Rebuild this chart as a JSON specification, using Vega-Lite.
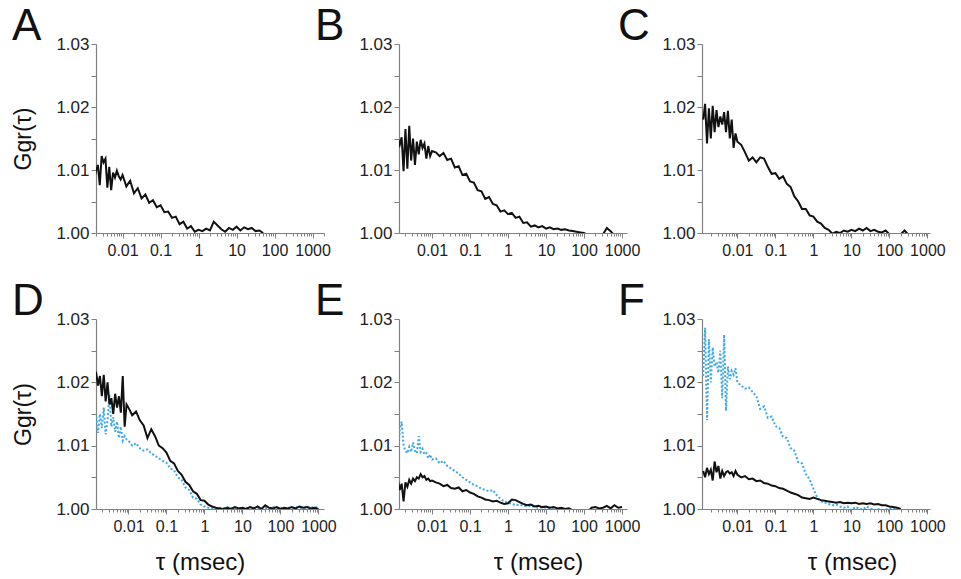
{
"$schema":"https://vega.github.io/schema/vega-lite/v6.json",
"background":"white",
"padding":{"left":12,"top":5,"right":5,"bottom":5},
"config":{"view":{"stroke":null},"font":"Liberation Sans",
"axis":{"domainColor":"#808080","tickColor":"#808080","labelColor":"#222","labelFont":"Liberation Sans","titleFont":"Liberation Sans","grid":false,"titleFontWeight":"normal","titleColor":"#111","domainWidth":1.2,"tickWidth":1},
"axisX":{"labelFontSize":16,"titleFontSize":24},
"axisY":{"labelFontSize":17,"titleFontSize":23}},
"datasets":{
"A":[{"tau":0.001259,"g":1.0100},{"tau":0.001413,"g":1.0090},{"tau":0.001585,"g":1.0110},{"tau":0.001778,"g":1.0085},{"tau":0.001995,"g":1.0098},{"tau":0.002239,"g":1.0108},{"tau":0.002512,"g":1.0076},{"tau":0.002818,"g":1.0122},{"tau":0.003162,"g":1.0112},{"tau":0.003548,"g":1.0118},{"tau":0.003981,"g":1.0072},{"tau":0.004467,"g":1.0105},{"tau":0.005012,"g":1.0068},{"tau":0.005623,"g":1.0096},{"tau":0.00631,"g":1.0088},{"tau":0.007079,"g":1.0099},{"tau":0.007943,"g":1.0090},{"tau":0.008913,"g":1.0085},{"tau":0.01,"g":1.0092},{"tau":0.01259,"g":1.0074},{"tau":0.01585,"g":1.0083},{"tau":0.01995,"g":1.0063},{"tau":0.02512,"g":1.0071},{"tau":0.03162,"g":1.0055},{"tau":0.03981,"g":1.0061},{"tau":0.05012,"g":1.0048},{"tau":0.0631,"g":1.0052},{"tau":0.07943,"g":1.0041},{"tau":0.1,"g":1.0044},{"tau":0.1259,"g":1.0033},{"tau":0.1585,"g":1.0034},{"tau":0.1995,"g":1.0024},{"tau":0.2512,"g":1.0026},{"tau":0.3162,"g":1.0014},{"tau":0.3981,"g":1.0018},{"tau":0.5012,"g":1.0007},{"tau":0.631,"g":1.0011},{"tau":0.7943,"g":1.0002},{"tau":1,"g":1.0005},{"tau":1.259,"g":1.0003},{"tau":1.585,"g":1.0007},{"tau":1.995,"g":1.0004},{"tau":2.512,"g":1.0018},{"tau":3.162,"g":1.0012},{"tau":3.981,"g":1.0006},{"tau":5.012,"g":1.0002},{"tau":6.31,"g":1.0008},{"tau":7.943,"g":1.0005},{"tau":10,"g":1.0010},{"tau":12.59,"g":1.0004},{"tau":15.85,"g":1.0009},{"tau":19.95,"g":1.0006},{"tau":25.12,"g":1.0008},{"tau":31.62,"g":1.0003},{"tau":39.81,"g":1.0004},{"tau":50.12,"g":1.0000}],
"B":[{"tau":0.001259,"g":1.0150},{"tau":0.001413,"g":1.0140},{"tau":0.001585,"g":1.0152},{"tau":0.001778,"g":1.0098},{"tau":0.001995,"g":1.0165},{"tau":0.002239,"g":1.0102},{"tau":0.002512,"g":1.0170},{"tau":0.002818,"g":1.0115},{"tau":0.003162,"g":1.0150},{"tau":0.003548,"g":1.0108},{"tau":0.003981,"g":1.0145},{"tau":0.004467,"g":1.0125},{"tau":0.005012,"g":1.0148},{"tau":0.005623,"g":1.0135},{"tau":0.00631,"g":1.0142},{"tau":0.007079,"g":1.0118},{"tau":0.007943,"g":1.0138},{"tau":0.008913,"g":1.0122},{"tau":0.01,"g":1.0130},{"tau":0.01259,"g":1.0128},{"tau":0.01585,"g":1.0122},{"tau":0.01995,"g":1.0127},{"tau":0.02512,"g":1.0116},{"tau":0.03162,"g":1.0118},{"tau":0.03981,"g":1.0104},{"tau":0.05012,"g":1.0106},{"tau":0.0631,"g":1.0092},{"tau":0.07943,"g":1.0094},{"tau":0.1,"g":1.0082},{"tau":0.1259,"g":1.0080},{"tau":0.1585,"g":1.0068},{"tau":0.1995,"g":1.0066},{"tau":0.2512,"g":1.0054},{"tau":0.3162,"g":1.0057},{"tau":0.3981,"g":1.0046},{"tau":0.5012,"g":1.0044},{"tau":0.631,"g":1.0034},{"tau":0.7943,"g":1.0036},{"tau":1,"g":1.0030},{"tau":1.259,"g":1.0032},{"tau":1.585,"g":1.0024},{"tau":1.995,"g":1.0026},{"tau":2.512,"g":1.0016},{"tau":3.162,"g":1.0017},{"tau":3.981,"g":1.0010},{"tau":5.012,"g":1.0012},{"tau":6.31,"g":1.0009},{"tau":7.943,"g":1.0011},{"tau":10,"g":1.0007},{"tau":12.59,"g":1.0009},{"tau":15.85,"g":1.0006},{"tau":19.95,"g":1.0007},{"tau":25.12,"g":1.0005},{"tau":31.62,"g":1.0006},{"tau":39.81,"g":1.0004},{"tau":50.12,"g":1.0003},{"tau":63.1,"g":1.0002},{"tau":79.43,"g":1.0001},{"tau":100,"g":1.0000},{"tau":125.9,"g":0.9996},{"tau":158.5,"g":0.9994},{"tau":199.5,"g":0.9995},{"tau":251.2,"g":0.9996},{"tau":316.2,"g":0.9998},{"tau":398.1,"g":1.0008},{"tau":501.2,"g":1.0003},{"tau":631,"g":0.9996}],
"C":[{"tau":0.001259,"g":1.0180},{"tau":0.001413,"g":1.0205},{"tau":0.001585,"g":1.0142},{"tau":0.001778,"g":1.0198},{"tau":0.001995,"g":1.0150},{"tau":0.002239,"g":1.0202},{"tau":0.002512,"g":1.0160},{"tau":0.002818,"g":1.0195},{"tau":0.003162,"g":1.0168},{"tau":0.003548,"g":1.0185},{"tau":0.003981,"g":1.0172},{"tau":0.004467,"g":1.0192},{"tau":0.005012,"g":1.0160},{"tau":0.005623,"g":1.0194},{"tau":0.00631,"g":1.0150},{"tau":0.007079,"g":1.0180},{"tau":0.007943,"g":1.0135},{"tau":0.008913,"g":1.0158},{"tau":0.01,"g":1.0145},{"tau":0.01259,"g":1.0140},{"tau":0.01585,"g":1.0128},{"tau":0.01995,"g":1.0115},{"tau":0.02512,"g":1.0120},{"tau":0.03162,"g":1.0112},{"tau":0.03981,"g":1.0120},{"tau":0.05012,"g":1.0118},{"tau":0.0631,"g":1.0105},{"tau":0.07943,"g":1.0094},{"tau":0.1,"g":1.0095},{"tau":0.1259,"g":1.0086},{"tau":0.1585,"g":1.0090},{"tau":0.1995,"g":1.0078},{"tau":0.2512,"g":1.0073},{"tau":0.3162,"g":1.0058},{"tau":0.3981,"g":1.0050},{"tau":0.5012,"g":1.0038},{"tau":0.631,"g":1.0038},{"tau":0.7943,"g":1.0028},{"tau":1,"g":1.0026},{"tau":1.259,"g":1.0018},{"tau":1.585,"g":1.0015},{"tau":1.995,"g":1.0008},{"tau":2.512,"g":1.0005},{"tau":3.162,"g":0.9999},{"tau":3.981,"g":1.0002},{"tau":5.012,"g":1.0000},{"tau":6.31,"g":1.0004},{"tau":7.943,"g":1.0002},{"tau":10,"g":1.0005},{"tau":12.59,"g":1.0003},{"tau":15.85,"g":1.0007},{"tau":19.95,"g":1.0004},{"tau":25.12,"g":1.0008},{"tau":31.62,"g":1.0003},{"tau":39.81,"g":1.0005},{"tau":50.12,"g":1.0002},{"tau":63.1,"g":1.0001},{"tau":79.43,"g":1.0004},{"tau":100,"g":0.9998},{"tau":125.9,"g":0.9996},{"tau":158.5,"g":0.9995},{"tau":199.5,"g":0.9998},{"tau":251.2,"g":1.0004},{"tau":316.2,"g":0.9997}],
"Dk":[{"tau":0.001259,"g":1.0220},{"tau":0.001413,"g":1.0215},{"tau":0.001585,"g":1.0195},{"tau":0.001778,"g":1.0210},{"tau":0.001995,"g":1.0178},{"tau":0.002239,"g":1.0212},{"tau":0.002512,"g":1.0170},{"tau":0.002818,"g":1.0200},{"tau":0.003162,"g":1.0165},{"tau":0.003548,"g":1.0175},{"tau":0.003981,"g":1.0150},{"tau":0.004467,"g":1.0182},{"tau":0.005012,"g":1.0160},{"tau":0.005623,"g":1.0178},{"tau":0.00631,"g":1.0152},{"tau":0.007079,"g":1.0210},{"tau":0.007943,"g":1.0130},{"tau":0.008913,"g":1.0165},{"tau":0.01,"g":1.0160},{"tau":0.01259,"g":1.0148},{"tau":0.01585,"g":1.0154},{"tau":0.01995,"g":1.0140},{"tau":0.02512,"g":1.0132},{"tau":0.03162,"g":1.0112},{"tau":0.03981,"g":1.0126},{"tau":0.05012,"g":1.0115},{"tau":0.0631,"g":1.0100},{"tau":0.07943,"g":1.0096},{"tau":0.1,"g":1.0089},{"tau":0.1259,"g":1.0076},{"tau":0.1585,"g":1.0072},{"tau":0.1995,"g":1.0060},{"tau":0.2512,"g":1.0054},{"tau":0.3162,"g":1.0043},{"tau":0.3981,"g":1.0038},{"tau":0.5012,"g":1.0028},{"tau":0.631,"g":1.0024},{"tau":0.7943,"g":1.0014},{"tau":1,"g":1.0013},{"tau":1.259,"g":1.0007},{"tau":1.585,"g":1.0004},{"tau":1.995,"g":1.0002},{"tau":2.512,"g":1.0001},{"tau":3.162,"g":1.0000},{"tau":3.981,"g":1.0002},{"tau":5.012,"g":1.0000},{"tau":6.31,"g":1.0003},{"tau":7.943,"g":1.0001},{"tau":10,"g":1.0002},{"tau":12.59,"g":1.0000},{"tau":15.85,"g":1.0003},{"tau":19.95,"g":1.0001},{"tau":25.12,"g":1.0004},{"tau":31.62,"g":1.0000},{"tau":39.81,"g":1.0006},{"tau":50.12,"g":1.0002},{"tau":63.1,"g":1.0001},{"tau":79.43,"g":1.0003},{"tau":100,"g":1.0000},{"tau":125.9,"g":1.0002},{"tau":158.5,"g":1.0001},{"tau":199.5,"g":1.0003},{"tau":251.2,"g":1.0001},{"tau":316.2,"g":1.0004},{"tau":398.1,"g":1.0002},{"tau":501.2,"g":1.0003},{"tau":631,"g":1.0001},{"tau":794.3,"g":1.0002},{"tau":1000,"g":1.0000}],
"Db":[{"tau":0.001259,"g":1.0145},{"tau":0.001413,"g":1.0148},{"tau":0.001585,"g":1.0120},{"tau":0.001778,"g":1.0150},{"tau":0.001995,"g":1.0128},{"tau":0.002239,"g":1.0160},{"tau":0.002512,"g":1.0118},{"tau":0.002818,"g":1.0140},{"tau":0.003162,"g":1.0180},{"tau":0.003548,"g":1.0130},{"tau":0.003981,"g":1.0145},{"tau":0.004467,"g":1.0122},{"tau":0.005012,"g":1.0138},{"tau":0.005623,"g":1.0112},{"tau":0.00631,"g":1.0130},{"tau":0.007079,"g":1.0108},{"tau":0.007943,"g":1.0115},{"tau":0.008913,"g":1.0110},{"tau":0.01,"g":1.0108},{"tau":0.01259,"g":1.0100},{"tau":0.01585,"g":1.0104},{"tau":0.01995,"g":1.0096},{"tau":0.02512,"g":1.0092},{"tau":0.03162,"g":1.0094},{"tau":0.03981,"g":1.0088},{"tau":0.05012,"g":1.0084},{"tau":0.0631,"g":1.0080},{"tau":0.07943,"g":1.0076},{"tau":0.1,"g":1.0073},{"tau":0.1259,"g":1.0064},{"tau":0.1585,"g":1.0061},{"tau":0.1995,"g":1.0050},{"tau":0.2512,"g":1.0046},{"tau":0.3162,"g":1.0034},{"tau":0.3981,"g":1.0030},{"tau":0.5012,"g":1.0018},{"tau":0.631,"g":1.0016},{"tau":0.7943,"g":1.0007},{"tau":1,"g":1.0004},{"tau":1.259,"g":1.0002},{"tau":1.585,"g":1.0001},{"tau":1.995,"g":1.0000},{"tau":2.512,"g":1.0002},{"tau":3.162,"g":1.0001},{"tau":3.981,"g":1.0003},{"tau":5.012,"g":1.0001},{"tau":6.31,"g":1.0002},{"tau":7.943,"g":1.0000},{"tau":10,"g":1.0002},{"tau":12.59,"g":1.0001},{"tau":15.85,"g":1.0003},{"tau":19.95,"g":1.0001},{"tau":25.12,"g":1.0002},{"tau":31.62,"g":1.0000},{"tau":39.81,"g":1.0002},{"tau":50.12,"g":1.0001},{"tau":63.1,"g":1.0003},{"tau":79.43,"g":1.0001},{"tau":100,"g":1.0002},{"tau":125.9,"g":1.0000},{"tau":158.5,"g":1.0002},{"tau":199.5,"g":1.0001},{"tau":251.2,"g":1.0003},{"tau":316.2,"g":1.0002},{"tau":398.1,"g":1.0001},{"tau":501.2,"g":1.0003},{"tau":631,"g":1.0002},{"tau":794.3,"g":1.0004},{"tau":1000,"g":1.0001}],
"Ek":[{"tau":0.001259,"g":1.0045},{"tau":0.001413,"g":1.0030},{"tau":0.001585,"g":1.0040},{"tau":0.001778,"g":1.0012},{"tau":0.001995,"g":1.0042},{"tau":0.002239,"g":1.0035},{"tau":0.002512,"g":1.0046},{"tau":0.002818,"g":1.0040},{"tau":0.003162,"g":1.0048},{"tau":0.003548,"g":1.0044},{"tau":0.003981,"g":1.0050},{"tau":0.004467,"g":1.0048},{"tau":0.005012,"g":1.0055},{"tau":0.005623,"g":1.0050},{"tau":0.00631,"g":1.0052},{"tau":0.007079,"g":1.0046},{"tau":0.007943,"g":1.0048},{"tau":0.008913,"g":1.0044},{"tau":0.01,"g":1.0045},{"tau":0.01259,"g":1.0042},{"tau":0.01585,"g":1.0040},{"tau":0.01995,"g":1.0036},{"tau":0.02512,"g":1.0038},{"tau":0.03162,"g":1.0033},{"tau":0.03981,"g":1.0032},{"tau":0.05012,"g":1.0034},{"tau":0.0631,"g":1.0028},{"tau":0.07943,"g":1.0030},{"tau":0.1,"g":1.0026},{"tau":0.1259,"g":1.0024},{"tau":0.1585,"g":1.0020},{"tau":0.1995,"g":1.0018},{"tau":0.2512,"g":1.0015},{"tau":0.3162,"g":1.0014},{"tau":0.3981,"g":1.0012},{"tau":0.5012,"g":1.0013},{"tau":0.631,"g":1.0010},{"tau":0.7943,"g":1.0008},{"tau":1,"g":1.0009},{"tau":1.259,"g":1.0015},{"tau":1.585,"g":1.0014},{"tau":1.995,"g":1.0011},{"tau":2.512,"g":1.0008},{"tau":3.162,"g":1.0006},{"tau":3.981,"g":1.0007},{"tau":5.012,"g":1.0004},{"tau":6.31,"g":1.0005},{"tau":7.943,"g":1.0003},{"tau":10,"g":1.0004},{"tau":12.59,"g":1.0002},{"tau":15.85,"g":1.0003},{"tau":19.95,"g":1.0001},{"tau":25.12,"g":1.0002},{"tau":31.62,"g":1.0000},{"tau":39.81,"g":1.0001},{"tau":50.12,"g":0.9998},{"tau":63.1,"g":0.9996},{"tau":79.43,"g":0.9995},{"tau":100,"g":0.9998},{"tau":125.9,"g":0.9996},{"tau":158.5,"g":1.0002},{"tau":199.5,"g":1.0003},{"tau":251.2,"g":1.0001},{"tau":316.2,"g":1.0002},{"tau":398.1,"g":1.0005},{"tau":501.2,"g":1.0001},{"tau":631,"g":1.0006},{"tau":794.3,"g":1.0002},{"tau":1000,"g":1.0003}],
"Eb":[{"tau":0.001259,"g":1.0085},{"tau":0.001413,"g":1.0125},{"tau":0.001585,"g":1.0138},{"tau":0.001778,"g":1.0100},{"tau":0.001995,"g":1.0092},{"tau":0.002239,"g":1.0088},{"tau":0.002512,"g":1.0098},{"tau":0.002818,"g":1.0090},{"tau":0.003162,"g":1.0105},{"tau":0.003548,"g":1.0092},{"tau":0.003981,"g":1.0088},{"tau":0.004467,"g":1.0115},{"tau":0.005012,"g":1.0090},{"tau":0.005623,"g":1.0095},{"tau":0.00631,"g":1.0086},{"tau":0.007079,"g":1.0088},{"tau":0.007943,"g":1.0080},{"tau":0.008913,"g":1.0086},{"tau":0.01,"g":1.0078},{"tau":0.01259,"g":1.0080},{"tau":0.01585,"g":1.0072},{"tau":0.01995,"g":1.0076},{"tau":0.02512,"g":1.0068},{"tau":0.03162,"g":1.0064},{"tau":0.03981,"g":1.0060},{"tau":0.05012,"g":1.0056},{"tau":0.0631,"g":1.0050},{"tau":0.07943,"g":1.0046},{"tau":0.1,"g":1.0042},{"tau":0.1259,"g":1.0038},{"tau":0.1585,"g":1.0036},{"tau":0.1995,"g":1.0032},{"tau":0.2512,"g":1.0030},{"tau":0.3162,"g":1.0028},{"tau":0.3981,"g":1.0030},{"tau":0.5012,"g":1.0022},{"tau":0.631,"g":1.0016},{"tau":0.7943,"g":1.0012},{"tau":1,"g":1.0010},{"tau":1.259,"g":1.0008},{"tau":1.585,"g":1.0006},{"tau":1.995,"g":1.0007},{"tau":2.512,"g":1.0005},{"tau":3.162,"g":1.0004},{"tau":3.981,"g":1.0005},{"tau":5.012,"g":1.0003},{"tau":6.31,"g":1.0002},{"tau":7.943,"g":1.0003},{"tau":10,"g":1.0002},{"tau":12.59,"g":1.0001},{"tau":15.85,"g":1.0002},{"tau":19.95,"g":1.0000},{"tau":25.12,"g":1.0001},{"tau":31.62,"g":1.0000},{"tau":39.81,"g":0.9998}],
"Fk":[{"tau":0.001259,"g":1.0060},{"tau":0.001413,"g":1.0050},{"tau":0.001585,"g":1.0065},{"tau":0.001778,"g":1.0055},{"tau":0.001995,"g":1.0062},{"tau":0.002239,"g":1.0045},{"tau":0.002512,"g":1.0075},{"tau":0.002818,"g":1.0058},{"tau":0.003162,"g":1.0068},{"tau":0.003548,"g":1.0048},{"tau":0.003981,"g":1.0060},{"tau":0.004467,"g":1.0052},{"tau":0.005012,"g":1.0058},{"tau":0.005623,"g":1.0060},{"tau":0.00631,"g":1.0056},{"tau":0.007079,"g":1.0058},{"tau":0.007943,"g":1.0052},{"tau":0.008913,"g":1.0060},{"tau":0.01,"g":1.0054},{"tau":0.01259,"g":1.0050},{"tau":0.01585,"g":1.0052},{"tau":0.01995,"g":1.0047},{"tau":0.02512,"g":1.0048},{"tau":0.03162,"g":1.0044},{"tau":0.03981,"g":1.0045},{"tau":0.05012,"g":1.0041},{"tau":0.0631,"g":1.0040},{"tau":0.07943,"g":1.0037},{"tau":0.1,"g":1.0036},{"tau":0.1259,"g":1.0033},{"tau":0.1585,"g":1.0032},{"tau":0.1995,"g":1.0029},{"tau":0.2512,"g":1.0026},{"tau":0.3162,"g":1.0024},{"tau":0.3981,"g":1.0022},{"tau":0.5012,"g":1.0018},{"tau":0.631,"g":1.0017},{"tau":0.7943,"g":1.0016},{"tau":1,"g":1.0018},{"tau":1.259,"g":1.0016},{"tau":1.585,"g":1.0014},{"tau":1.995,"g":1.0013},{"tau":2.512,"g":1.0012},{"tau":3.162,"g":1.0011},{"tau":3.981,"g":1.0010},{"tau":5.012,"g":1.0011},{"tau":6.31,"g":1.0009},{"tau":7.943,"g":1.0010},{"tau":10,"g":1.0009},{"tau":12.59,"g":1.0010},{"tau":15.85,"g":1.0008},{"tau":19.95,"g":1.0009},{"tau":25.12,"g":1.0008},{"tau":31.62,"g":1.0009},{"tau":39.81,"g":1.0007},{"tau":50.12,"g":1.0008},{"tau":63.1,"g":1.0006},{"tau":79.43,"g":1.0006},{"tau":100,"g":1.0004},{"tau":125.9,"g":1.0003},{"tau":158.5,"g":1.0002},{"tau":199.5,"g":1.0000}],
"Fb":[{"tau":0.001259,"g":1.0210},{"tau":0.001413,"g":1.0286},{"tau":0.001585,"g":1.0140},{"tau":0.001778,"g":1.0268},{"tau":0.001995,"g":1.0200},{"tau":0.002239,"g":1.0255},{"tau":0.002512,"g":1.0225},{"tau":0.002818,"g":1.0232},{"tau":0.003162,"g":1.0215},{"tau":0.003548,"g":1.0250},{"tau":0.003981,"g":1.0175},{"tau":0.004467,"g":1.0275},{"tau":0.005012,"g":1.0155},{"tau":0.005623,"g":1.0225},{"tau":0.00631,"g":1.0205},{"tau":0.007079,"g":1.0218},{"tau":0.007943,"g":1.0212},{"tau":0.008913,"g":1.0222},{"tau":0.01,"g":1.0200},{"tau":0.01259,"g":1.0195},{"tau":0.01585,"g":1.0190},{"tau":0.01995,"g":1.0192},{"tau":0.02512,"g":1.0185},{"tau":0.03162,"g":1.0178},{"tau":0.03981,"g":1.0158},{"tau":0.05012,"g":1.0162},{"tau":0.0631,"g":1.0144},{"tau":0.07943,"g":1.0146},{"tau":0.1,"g":1.0131},{"tau":0.1259,"g":1.0128},{"tau":0.1585,"g":1.0114},{"tau":0.1995,"g":1.0112},{"tau":0.2512,"g":1.0096},{"tau":0.3162,"g":1.0092},{"tau":0.3981,"g":1.0074},{"tau":0.5012,"g":1.0072},{"tau":0.631,"g":1.0055},{"tau":0.7943,"g":1.0047},{"tau":1,"g":1.0032},{"tau":1.259,"g":1.0018},{"tau":1.585,"g":1.0012},{"tau":1.995,"g":1.0010},{"tau":2.512,"g":1.0008},{"tau":3.162,"g":1.0006},{"tau":3.981,"g":1.0007},{"tau":5.012,"g":1.0004},{"tau":6.31,"g":1.0002},{"tau":7.943,"g":1.0004},{"tau":10,"g":0.9998},{"tau":12.59,"g":1.0003},{"tau":15.85,"g":1.0001},{"tau":19.95,"g":0.9999},{"tau":25.12,"g":1.0004},{"tau":31.62,"g":1.0001},{"tau":39.81,"g":0.9998},{"tau":50.12,"g":1.0000},{"tau":63.1,"g":0.9998},{"tau":79.43,"g":0.9999},{"tau":100,"g":1.0001},{"tau":125.9,"g":1.0000},{"tau":158.5,"g":1.0000},{"tau":199.5,"g":0.9998}]
},
"columns":3,
"spacing":{"row":86,"column":75},
"bounds":"flush",
"concat":[
{"width":228,"height":189,
"title":{"text":"A","anchor":"start","frame":"group","dx":-84,"offset":-49,"baseline":"alphabetic","fontSize":44,"fontWeight":"normal","color":"#111"},
"data":{"name":"A"},
"mark":{"type":"line","clip":true,"color":"#111","strokeWidth":2},
"encoding":{
"x":{"field":"tau","type":"quantitative","scale":{"type":"log","domain":[0.002,2000],"nice":false},"axis":{"title":null,"values":[0.002,0.003,0.004,0.005,0.006,0.007,0.008,0.009,0.01,0.02,0.03,0.04,0.05,0.06,0.07,0.08,0.09,0.1,0.2,0.3,0.4,0.5,0.6,0.7,0.8,0.9,1,2,3,4,5,6,7,8,9,10,20,30,40,50,60,70,80,90,100,200,300,400,500,600,700,800,900,1000,2000],"labelExpr":"abs(log(datum.value)/LN10-round(log(datum.value)/LN10))<0.01 ? ''+datum.value : ''","labelOverlap":false,"labelFlush":false,"tickSize":{"condition":{"test":"abs(log(datum.value)/LN10-round(log(datum.value)/LN10))<0.01","value":5},"value":3},"labelPadding":4}},
"y":{"field":"g","type":"quantitative","scale":{"domain":[1,1.03],"nice":false,"zero":false},"axis":{"title":"Ggr(τ)","titlePadding":20,"values":[1,1.005,1.01,1.015,1.02,1.025,1.03],"labelExpr":"abs(datum.value*100-round(datum.value*100))<0.01 ? format(datum.value,'.2f') : ''","tickSize":5,"labelPadding":2}}}},
{"width":228,"height":189,
"title":{"text":"B","anchor":"start","frame":"group","dx":-84,"offset":-49,"baseline":"alphabetic","fontSize":44,"fontWeight":"normal","color":"#111"},
"data":{"name":"B"},
"mark":{"type":"line","clip":true,"color":"#111","strokeWidth":2},
"encoding":{
"x":{"field":"tau","type":"quantitative","scale":{"type":"log","domain":[0.00135,1350],"nice":false},"axis":{"title":null,"values":[0.002,0.003,0.004,0.005,0.006,0.007,0.008,0.009,0.01,0.02,0.03,0.04,0.05,0.06,0.07,0.08,0.09,0.1,0.2,0.3,0.4,0.5,0.6,0.7,0.8,0.9,1,2,3,4,5,6,7,8,9,10,20,30,40,50,60,70,80,90,100,200,300,400,500,600,700,800,900,1000],"labelExpr":"abs(log(datum.value)/LN10-round(log(datum.value)/LN10))<0.01 ? ''+datum.value : ''","labelOverlap":false,"labelFlush":false,"tickSize":{"condition":{"test":"abs(log(datum.value)/LN10-round(log(datum.value)/LN10))<0.01","value":5},"value":3},"labelPadding":4}},
"y":{"field":"g","type":"quantitative","scale":{"domain":[1,1.03],"nice":false,"zero":false},"axis":{"title":null,"values":[1,1.005,1.01,1.015,1.02,1.025,1.03],"labelExpr":"abs(datum.value*100-round(datum.value*100))<0.01 ? format(datum.value,'.2f') : ''","tickSize":5,"labelPadding":2}}}},
{"width":228,"height":189,
"title":{"text":"C","anchor":"start","frame":"group","dx":-84,"offset":-49,"baseline":"alphabetic","fontSize":44,"fontWeight":"normal","color":"#111"},
"data":{"name":"C"},
"mark":{"type":"line","clip":true,"color":"#111","strokeWidth":2},
"encoding":{
"x":{"field":"tau","type":"quantitative","scale":{"type":"log","domain":[0.00117,1170],"nice":false},"axis":{"title":null,"values":[0.002,0.003,0.004,0.005,0.006,0.007,0.008,0.009,0.01,0.02,0.03,0.04,0.05,0.06,0.07,0.08,0.09,0.1,0.2,0.3,0.4,0.5,0.6,0.7,0.8,0.9,1,2,3,4,5,6,7,8,9,10,20,30,40,50,60,70,80,90,100,200,300,400,500,600,700,800,900,1000],"labelExpr":"abs(log(datum.value)/LN10-round(log(datum.value)/LN10))<0.01 ? ''+datum.value : ''","labelOverlap":false,"labelFlush":false,"tickSize":{"condition":{"test":"abs(log(datum.value)/LN10-round(log(datum.value)/LN10))<0.01","value":5},"value":3},"labelPadding":4}},
"y":{"field":"g","type":"quantitative","scale":{"domain":[1,1.03],"nice":false,"zero":false},"axis":{"title":null,"values":[1,1.005,1.01,1.015,1.02,1.025,1.03],"labelExpr":"abs(datum.value*100-round(datum.value*100))<0.01 ? format(datum.value,'.2f') : ''","tickSize":5,"labelPadding":2}}}},
{"width":228,"height":190,
"title":{"text":"D","anchor":"start","frame":"group","dx":-84,"offset":-49,"baseline":"alphabetic","fontSize":44,"fontWeight":"normal","color":"#111"},
"encoding":{
"x":{"field":"tau","type":"quantitative","scale":{"type":"log","domain":[0.0014,1400],"nice":false},"axis":{"title":"τ (msec)","titlePadding":16,"titleX":104,"values":[0.002,0.003,0.004,0.005,0.006,0.007,0.008,0.009,0.01,0.02,0.03,0.04,0.05,0.06,0.07,0.08,0.09,0.1,0.2,0.3,0.4,0.5,0.6,0.7,0.8,0.9,1,2,3,4,5,6,7,8,9,10,20,30,40,50,60,70,80,90,100,200,300,400,500,600,700,800,900,1000],"labelExpr":"abs(log(datum.value)/LN10-round(log(datum.value)/LN10))<0.01 ? ''+datum.value : ''","labelOverlap":false,"labelFlush":false,"tickSize":{"condition":{"test":"abs(log(datum.value)/LN10-round(log(datum.value)/LN10))<0.01","value":5},"value":3},"labelPadding":4}},
"y":{"field":"g","type":"quantitative","scale":{"domain":[1,1.03],"nice":false,"zero":false},"axis":{"title":"Ggr(τ)","titlePadding":20,"values":[1,1.005,1.01,1.015,1.02,1.025,1.03],"labelExpr":"abs(datum.value*100-round(datum.value*100))<0.01 ? format(datum.value,'.2f') : ''","tickSize":5,"labelPadding":2}}},
"layer":[
{"data":{"name":"Db"},"mark":{"type":"line","clip":true,"color":"#3fa9e8","strokeWidth":2,"strokeDash":[2,2]}},
{"data":{"name":"Dk"},"mark":{"type":"line","clip":true,"color":"#111","strokeWidth":2}}]},
{"width":228,"height":190,
"title":{"text":"E","anchor":"start","frame":"group","dx":-84,"offset":-49,"baseline":"alphabetic","fontSize":44,"fontWeight":"normal","color":"#111"},
"encoding":{
"x":{"field":"tau","type":"quantitative","scale":{"type":"log","domain":[0.00135,1350],"nice":false},"axis":{"title":"τ (msec)","titlePadding":16,"titleX":139,"values":[0.002,0.003,0.004,0.005,0.006,0.007,0.008,0.009,0.01,0.02,0.03,0.04,0.05,0.06,0.07,0.08,0.09,0.1,0.2,0.3,0.4,0.5,0.6,0.7,0.8,0.9,1,2,3,4,5,6,7,8,9,10,20,30,40,50,60,70,80,90,100,200,300,400,500,600,700,800,900,1000],"labelExpr":"abs(log(datum.value)/LN10-round(log(datum.value)/LN10))<0.01 ? ''+datum.value : ''","labelOverlap":false,"labelFlush":false,"tickSize":{"condition":{"test":"abs(log(datum.value)/LN10-round(log(datum.value)/LN10))<0.01","value":5},"value":3},"labelPadding":4}},
"y":{"field":"g","type":"quantitative","scale":{"domain":[1,1.03],"nice":false,"zero":false},"axis":{"title":null,"values":[1,1.005,1.01,1.015,1.02,1.025,1.03],"labelExpr":"abs(datum.value*100-round(datum.value*100))<0.01 ? format(datum.value,'.2f') : ''","tickSize":5,"labelPadding":2}}},
"layer":[
{"data":{"name":"Eb"},"mark":{"type":"line","clip":true,"color":"#3fa9e8","strokeWidth":2,"strokeDash":[2,2]}},
{"data":{"name":"Ek"},"mark":{"type":"line","clip":true,"color":"#111","strokeWidth":2}}]},
{"width":228,"height":190,
"title":{"text":"F","anchor":"start","frame":"group","dx":-84,"offset":-49,"baseline":"alphabetic","fontSize":44,"fontWeight":"normal","color":"#111"},
"encoding":{
"x":{"field":"tau","type":"quantitative","scale":{"type":"log","domain":[0.00117,1170],"nice":false},"axis":{"title":"τ (msec)","titlePadding":16,"titleX":150,"values":[0.002,0.003,0.004,0.005,0.006,0.007,0.008,0.009,0.01,0.02,0.03,0.04,0.05,0.06,0.07,0.08,0.09,0.1,0.2,0.3,0.4,0.5,0.6,0.7,0.8,0.9,1,2,3,4,5,6,7,8,9,10,20,30,40,50,60,70,80,90,100,200,300,400,500,600,700,800,900,1000],"labelExpr":"abs(log(datum.value)/LN10-round(log(datum.value)/LN10))<0.01 ? ''+datum.value : ''","labelOverlap":false,"labelFlush":false,"tickSize":{"condition":{"test":"abs(log(datum.value)/LN10-round(log(datum.value)/LN10))<0.01","value":5},"value":3},"labelPadding":4}},
"y":{"field":"g","type":"quantitative","scale":{"domain":[1,1.03],"nice":false,"zero":false},"axis":{"title":null,"values":[1,1.005,1.01,1.015,1.02,1.025,1.03],"labelExpr":"abs(datum.value*100-round(datum.value*100))<0.01 ? format(datum.value,'.2f') : ''","tickSize":5,"labelPadding":2}}},
"layer":[
{"data":{"name":"Fb"},"mark":{"type":"line","clip":true,"color":"#3fa9e8","strokeWidth":2,"strokeDash":[2,2]}},
{"data":{"name":"Fk"},"mark":{"type":"line","clip":true,"color":"#111","strokeWidth":2}}]}
]
}
